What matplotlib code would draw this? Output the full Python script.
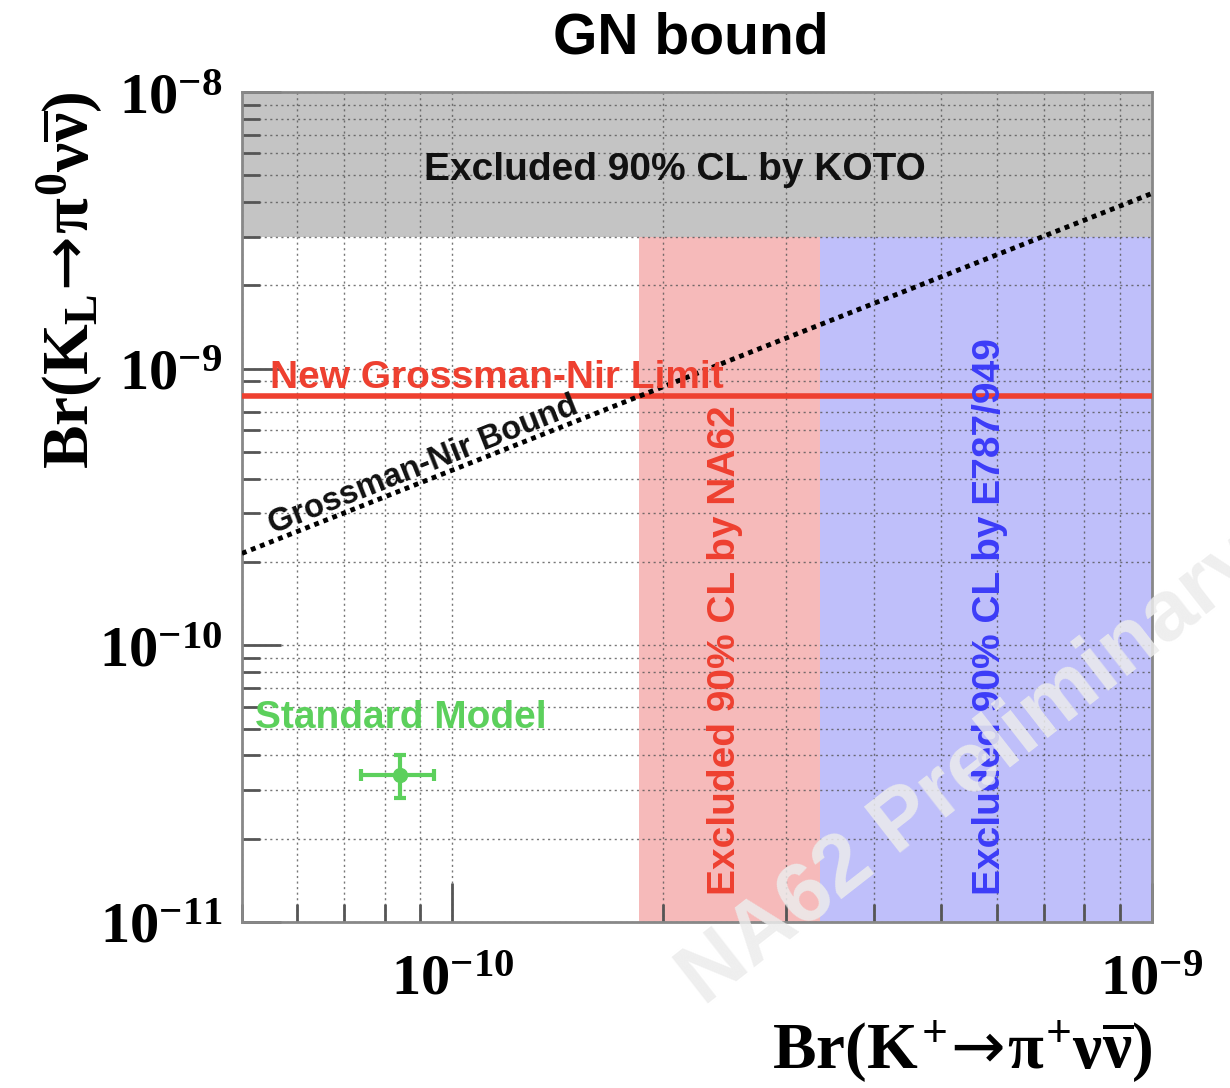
import numpy as np
import matplotlib.pyplot as plt
from matplotlib.ticker import LogLocator, FuncFormatter, NullFormatter

# Serif bold for all math text (ticks and axis titles)
plt.rcParams['mathtext.fontset'] = 'custom'
plt.rcParams['mathtext.rm'] = 'Liberation Serif:bold'
plt.rcParams['mathtext.it'] = 'Liberation Serif:bold'
plt.rcParams['mathtext.bf'] = 'Liberation Serif:bold'
plt.rcParams['mathtext.sf'] = 'DejaVu Sans'
plt.rcParams['font.family'] = ['Liberation Sans', 'DejaVu Sans']

# Axis ranges
x_range = [5e-11, 1e-9]
y_range = [1e-11, 1e-8]

# Experimental 90% CL upper limits
koto_limit = 3.0e-9     # Br(KL -> pi0 nu nubar)
na62_limit = 1.85e-10   # Br(K+ -> pi+ nu nubar)
e949_limit = 3.35e-10   # Br(K+ -> pi+ nu nubar)

# Grossman-Nir relation Br(KL) < 4.3 Br(K+)
gn_ratio = 4.3
gn_limit = gn_ratio * na62_limit

# Standard Model prediction
sm_x, sm_xerr = 8.4e-11, 1.0e-11
sm_y, sm_yerr = 3.4e-11, 0.6e-11

fig = plt.figure(figsize=(12.3, 10.88), dpi=100)
ax = fig.add_axes([0.1967, 0.1526, 0.7398, 0.7628])
ax.set_xscale('log')
ax.set_yscale('log')
ax.set_xlim(x_range)
ax.set_ylim(y_range)

# excluded regions
ax.fill_between(x_range, koto_limit, y_range[1], color='#c4c4c4', lw=0, zorder=1)
ax.fill_between([na62_limit, e949_limit], y_range[0], koto_limit, color='#f6baba', lw=0, zorder=1)
ax.fill_between([e949_limit, x_range[1]], y_range[0], koto_limit, color='#bfbffa', lw=0, zorder=1)

# new GN limit from NA62
ax.plot(x_range, [gn_limit, gn_limit], color='#ee4030', lw=4, zorder=3)

# GN bound line
xs = np.array(x_range)
ax.plot(xs, gn_ratio * xs, color='black', lw=3.5, ls=(0, (1, 1)), zorder=3)

# SM point
ax.errorbar([sm_x], [sm_y], xerr=[sm_xerr], yerr=[sm_yerr], fmt='o', color='#5cd05c',
            ms=10, lw=3, capsize=4, capthick=3, zorder=4)

# texts
ax.text(0.476, 0.906, 'Excluded 90% CL by KOTO', transform=ax.transAxes,
        ha='center', va='center', fontsize=28, fontweight='bold', color='#111111', zorder=5)
ax.text(0.031, 0.6434, 'New Grossman-Nir Limit', transform=ax.transAxes,
        ha='left', va='baseline', fontsize=28, fontweight='bold', color='#ee4030', zorder=5)
ax.text(0.199, 0.550, 'Grossman-Nir Bound', transform=ax.transAxes, rotation=21.6,
        rotation_mode='anchor', ha='center', va='center', fontsize=23.5, fontweight='bold',
        color='#111111', zorder=5)
ax.text(0.014, 0.234, 'Standard Model', transform=ax.transAxes,
        ha='left', va='baseline', fontsize=28, fontweight='bold', color='#5cd05c', zorder=5)
ax.text(0.531, 0.0325, 'Excluded 90% CL by NA62', transform=ax.transAxes, rotation=90,
        ha='center', va='bottom', fontsize=28, fontweight='bold', color='#ee4030', zorder=5)
ax.text(0.822, 0.0325, 'Excluded 90% CL by E787/949', transform=ax.transAxes, rotation=90,
        ha='center', va='bottom', fontsize=28, fontweight='bold', color='#3c3cf8', zorder=5)

# grid and ticks
def pow10(v, pos):
    return r'$10^{%d}$' % int(round(np.log10(v)))

ax.xaxis.set_major_locator(LogLocator(base=10))
ax.xaxis.set_minor_locator(LogLocator(base=10, subs=np.arange(2, 10)))
ax.yaxis.set_major_locator(LogLocator(base=10))
ax.yaxis.set_minor_locator(LogLocator(base=10, subs=np.arange(2, 10)))
ax.xaxis.set_major_formatter(FuncFormatter(pow10))
ax.yaxis.set_major_formatter(FuncFormatter(pow10))
ax.xaxis.set_minor_formatter(NullFormatter())
ax.yaxis.set_minor_formatter(NullFormatter())
ax.grid(True, which='both', color='#555555', ls=(0, (1.5, 2.5)), lw=1, alpha=0.8)
ax.tick_params(which='both', direction='in', top=False, right=False, color='#555555', width=2)
ax.tick_params(which='major', length=28)
ax.tick_params(which='minor', length=13)
ax.tick_params(axis='y', which='major', labelsize=42, pad=14)
ax.tick_params(axis='x', which='major', labelsize=42, pad=22)
for s in ax.spines.values():
    s.set_color('#888888')
    s.set_linewidth(2)

arrow = r'\!\mathsf{\rightarrow}\!'
ax.set_xlabel(r'$Br(K^{+}' + arrow + r'\pi^{+}\nu\overline{\nu})$', fontsize=47, loc='right')
ax.xaxis.set_label_coords(1.0, -0.116)
ax.set_ylabel(r'$Br(K_{L}' + arrow + r'\pi^{0}\nu\overline{\nu})$', fontsize=47, loc='top')
ax.yaxis.set_label_coords(-0.150, 1.0)

fig.suptitle('GN bound', x=0.562, y=0.989, va='top', fontsize=41, fontweight='bold')

# watermark
fig.text(0.572, 0.075, 'NA62 Preliminary', rotation=38, rotation_mode='anchor',
         ha='left', va='baseline', fontsize=62, fontweight='bold', color='#ececec',
         alpha=0.85, zorder=10)

fig.savefig('out.png', dpi=100)
